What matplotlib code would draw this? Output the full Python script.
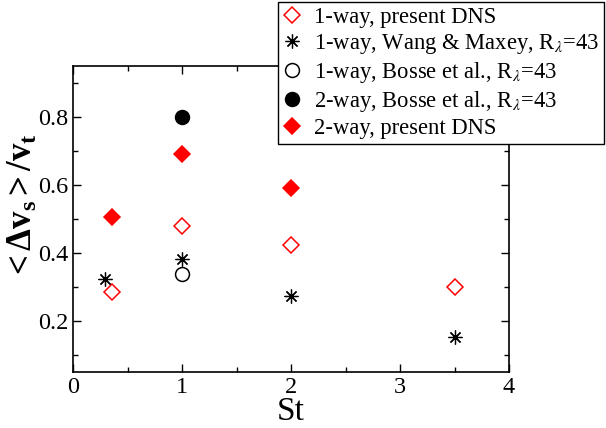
import matplotlib
matplotlib.use("Agg")
import matplotlib.pyplot as plt
from matplotlib.ticker import MultipleLocator

plt.rcParams['font.family'] = ['Liberation Serif', 'DejaVu Serif']
plt.rcParams['mathtext.fontset'] = 'stix'

# Data
st_1way_dns = [0.36, 1.0, 2.0, 3.5]
dv_1way_dns = [0.285, 0.478, 0.425, 0.300]

st_wang = [0.29, 1.0, 2.0, 3.5]
dv_wang = [0.325, 0.382, 0.273, 0.152]

st_bosse1 = [1.0]
dv_bosse1 = [0.338]

st_bosse2 = [1.0]
dv_bosse2 = [0.800]

st_2way_dns = [0.36, 1.0, 2.0]
dv_2way_dns = [0.507, 0.692, 0.592]

labels = [
    "1-way, present DNS",
    r"1-way, Wang & Maxey, R$_\lambda$=43",
    r"1-way, Bosse et al., R$_\lambda$=43",
    r"2-way, Bosse et al., R$_\lambda$=43",
    "2-way, present DNS",
]

fig = plt.figure(figsize=(6.06, 4.28), dpi=100)
ax = fig.add_axes([73/606, 1-372/428, (509-73)/606, (372-66)/428])

ms = 10
ax.plot(st_1way_dns, dv_1way_dns, ls='none', marker='D', ms=ms*0.78, mfc='white',
        mec='red', mew=1.1, label=labels[0])
ax.plot(st_wang, dv_wang, ls='none', marker=(8, 2, 0), ms=ms, mec='black',
        mew=0.9, label=labels[1])
ax.plot(st_bosse1, dv_bosse1, ls='none', marker='o', ms=ms, mfc='white',
        mec='black', mew=1.1, label=labels[2])
ax.plot(st_bosse2, dv_bosse2, ls='none', marker='o', ms=ms, mfc='black',
        mec='black', mew=1.1, label=labels[3])
ax.plot(st_2way_dns, dv_2way_dns, ls='none', marker='D', ms=ms*0.78, mfc='red',
        mec='red', mew=1.1, label=labels[4])

ax.set_xlim(0, 4)
ax.set_ylim(0.05, 0.95)
ax.xaxis.set_major_locator(MultipleLocator(1))
ax.xaxis.set_minor_locator(MultipleLocator(0.5))
ax.yaxis.set_major_locator(MultipleLocator(0.2))
ax.yaxis.set_minor_locator(MultipleLocator(0.1))
ax.tick_params(which='both', direction='in', top=True, right=True, width=1.0,
               labelsize=17.5)
ax.tick_params(which='major', length=6)
ax.tick_params(which='minor', length=3.5)
for lab in ax.get_xticklabels() + ax.get_yticklabels():
    lab.set_fontfamily('Liberation Serif')
for sp in ax.spines.values():
    sp.set_linewidth(1.2)

ax.set_xlabel("St", fontsize=24, labelpad=-1)
ax.set_ylabel(r"$\mathregular{<\Delta v_s>/v_t}$", fontsize=25,
              fontweight='bold')
ax.yaxis.set_label_coords(-0.075, 0.54)

leg = fig.legend(loc='upper left', bbox_to_anchor=(278/606, 1-2/428),
                 fontsize=16.3, frameon=True, fancybox=False, framealpha=1,
                 edgecolor='black', handlelength=0.8, handletextpad=0.55,
                 labelspacing=0.18, borderpad=0.22, borderaxespad=0)
leg.get_frame().set_linewidth(1.0)

fig.savefig("out.png", dpi=100)
